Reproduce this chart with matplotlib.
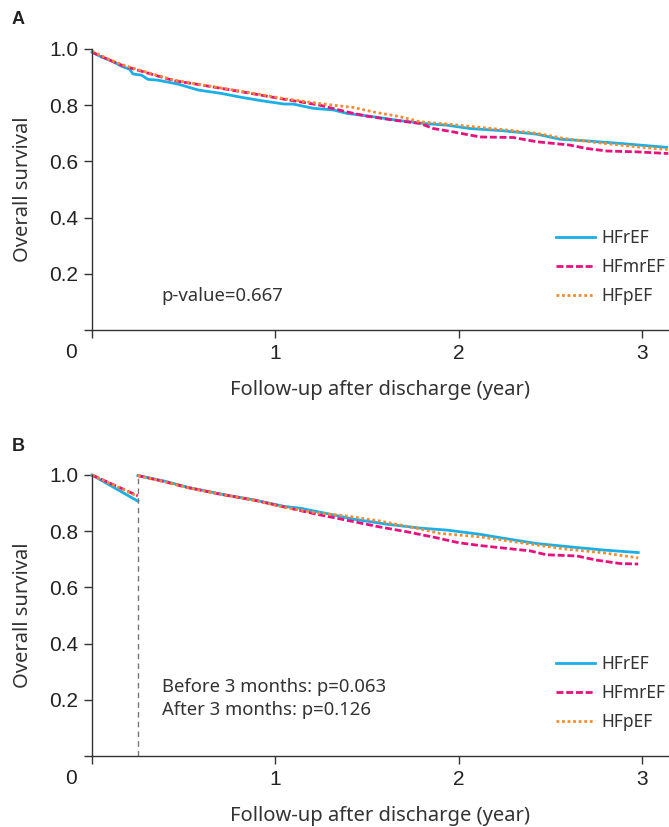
import numpy as np
import matplotlib
matplotlib.use("Agg")
import matplotlib.pyplot as plt

# panel A - survival curves
a_ref_x = [0, 0.05, 0.115, 0.16, 0.205, 0.224, 0.27, 0.305, 0.36, 0.47, 0.58, 0.705, 0.815, 0.924, 1.05,
           1.098, 1.207, 1.317, 1.39, 1.535, 1.68, 1.81, 1.935, 2.062, 2.244, 2.426, 2.553, 2.698, 2.88, 3.135]
a_ref_y = [0.989, 0.972, 0.955, 0.939, 0.928, 0.911, 0.907, 0.892, 0.889, 0.875, 0.854, 0.842, 0.828, 0.816, 0.804,
           0.804, 0.789, 0.783, 0.771, 0.759, 0.745, 0.735, 0.729, 0.717, 0.709, 0.697, 0.679, 0.673, 0.664, 0.650]
a_mr_x = [0, 0.087, 0.16, 0.233, 0.342, 0.45, 0.596, 0.705, 0.85, 1.05, 1.135, 1.244, 1.39, 1.5, 1.644,
          1.79, 1.862, 1.97, 2.117, 2.298, 2.426, 2.608, 2.698, 2.808, 2.97, 3.144]
a_mr_y = [0.989, 0.963, 0.943, 0.928, 0.907, 0.887, 0.872, 0.860, 0.844, 0.821, 0.812, 0.800, 0.776, 0.761, 0.747,
          0.735, 0.717, 0.705, 0.687, 0.685, 0.670, 0.658, 0.646, 0.637, 0.634, 0.628]
a_p_x = [0, 0.087, 0.16, 0.233, 0.342, 0.45, 0.596, 0.705, 0.85, 1.05, 1.17, 1.317, 1.426, 1.535, 1.68,
         1.79, 1.935, 2.117, 2.244, 2.426, 2.571, 2.753, 2.97, 3.144]
a_p_y = [0.992, 0.965, 0.945, 0.930, 0.909, 0.889, 0.873, 0.861, 0.846, 0.823, 0.812, 0.800, 0.792, 0.776, 0.759,
         0.741, 0.733, 0.721, 0.713, 0.700, 0.682, 0.667, 0.652, 0.642]

# panel B - landmark analysis at 3 months (first two points: before 3 months)
b_ref_x = [0, 0.25, 0.25, 0.397, 0.524, 0.705, 0.887, 1.05, 1.135, 1.28, 1.426, 1.608, 1.79, 1.935,
           2.117, 2.244, 2.426, 2.644, 2.79, 2.98]
b_ref_y = [1.0, 0.907, 0.998, 0.978, 0.956, 0.932, 0.911, 0.888, 0.882, 0.863, 0.843, 0.825, 0.811, 0.804,
           0.789, 0.775, 0.756, 0.742, 0.733, 0.724]
b_mr_x = [0, 0.25, 0.25, 0.397, 0.524, 0.705, 0.887, 1.05, 1.207, 1.39, 1.571, 1.717, 1.862, 2.0,
          2.117, 2.244, 2.39, 2.48, 2.644, 2.753, 2.88, 2.98]
b_mr_y = [1.0, 0.926, 0.998, 0.976, 0.955, 0.931, 0.910, 0.886, 0.863, 0.839, 0.815, 0.798, 0.779, 0.759,
          0.749, 0.740, 0.730, 0.716, 0.712, 0.697, 0.685, 0.683]
b_p_x = [0, 0.25, 0.25, 0.397, 0.524, 0.705, 0.887, 1.05, 1.207, 1.39, 1.571, 1.753, 1.9,
         2.117, 2.244, 2.426, 2.59, 2.79, 2.98]
b_p_y = [1.0, 0.924, 0.998, 0.976, 0.955, 0.931, 0.910, 0.885, 0.867, 0.854, 0.836, 0.813, 0.792,
         0.780, 0.768, 0.751, 0.736, 0.723, 0.705]
landmark = 0.25

names = ['HFrEF', 'HFmrEF', 'HFpEF']
colors = ['#1AAFE6', '#E6117F', '#F58B2E']
styles = ['-', (0, (2.5, 1)), (0, (1, 1))]

lab_font = 'Noto Sans'
tick_font = 'Liberation Sans'

fig = plt.figure(figsize=(6.69, 8.27), dpi=100)
ax_a = fig.add_axes([92/669, 1-330/827, 1-92/669, 281/827])
ax_b = fig.add_axes([92/669, 1-756/827, 1-92/669, 281/827])


def style_axes(ax):
    ax.set_xlim(0, 577/183.3)
    ax.set_ylim(0, 1.0)
    for s in ['top', 'right']:
        ax.spines[s].set_visible(False)
    for s in ['left', 'bottom']:
        ax.spines[s].set_color('#333333')
        ax.spines[s].set_linewidth(1.0)
    ax.set_xticks([0, 1, 2, 3])
    ax.set_xticklabels(['', '1', '2', '3'])
    ax.set_yticks([0, 0.2, 0.4, 0.6, 0.8, 1.0])
    ax.set_yticklabels(['', '0.2', '0.4', '0.6', '0.8', '1.0'])
    ax.tick_params(length=6, width=1.0, color='#333333', labelsize=15, pad=4, labelcolor='#222222')
    for t in ax.get_xticklabels() + ax.get_yticklabels():
        t.set_fontfamily(tick_font)
    ax.text(-0.115, -0.045, '0', fontsize=15, family=tick_font, color='#222222',
            ha='center', va='top', clip_on=False)
    ax.set_ylabel('Overall survival', fontsize=14.5, family=lab_font, color='#333333', labelpad=11.5)
    ax.set_xlabel('Follow-up after discharge (year)', fontsize=14.5, family=lab_font, color='#333333', labelpad=12)


style_axes(ax_a)
style_axes(ax_b)

series_a = [(a_ref_x, a_ref_y), (a_mr_x, a_mr_y), (a_p_x, a_p_y)]
series_b = [(b_ref_x, b_ref_y), (b_mr_x, b_mr_y), (b_p_x, b_p_y)]

for (x, y), nm, c, ls in zip(series_a, names, colors, styles):
    ax_a.plot(x, y, color=c, linestyle=ls, lw=2.0, label=nm, clip_on=False)

for (x, y), nm, c, ls in zip(series_b, names, colors, styles):
    ax_b.plot(x[:2], y[:2], color=c, linestyle=ls, lw=2.0, clip_on=False)
    ax_b.plot(x[2:], y[2:], color=c, linestyle=ls, lw=2.0, label=nm, clip_on=False)

ax_b.plot([landmark, landmark], [0, 1.0], color='#777777', lw=1.0, linestyle=(0, (4, 3)))

for ax in [ax_a, ax_b]:
    ax.legend(loc='upper left', bbox_to_anchor=(0.805, 0.36), frameon=False,
              prop={'family': lab_font, 'size': 12.5}, handlelength=2.2, handletextpad=0.4,
              labelspacing=0.65, borderpad=0, borderaxespad=0, labelcolor='#333333')

ax_a.text(0.38, 0.12, 'p-value=0.667', fontsize=13.3, family=lab_font, color='#333333', va='center')
ax_b.text(0.38, 0.247, 'Before 3 months: p=0.063', fontsize=13.3, family=lab_font, color='#333333', va='center')
ax_b.text(0.38, 0.163, 'After 3 months: p=0.126', fontsize=13.3, family=lab_font, color='#333333', va='center')

fig.text(12/669, 1-20/827, 'A', fontsize=13, fontweight='bold', family=tick_font, va='center', color='#222222')
fig.text(12/669, 1-447/827, 'B', fontsize=13, fontweight='bold', family=tick_font, va='center', color='#222222')

fig.savefig('out.png', dpi=100)
